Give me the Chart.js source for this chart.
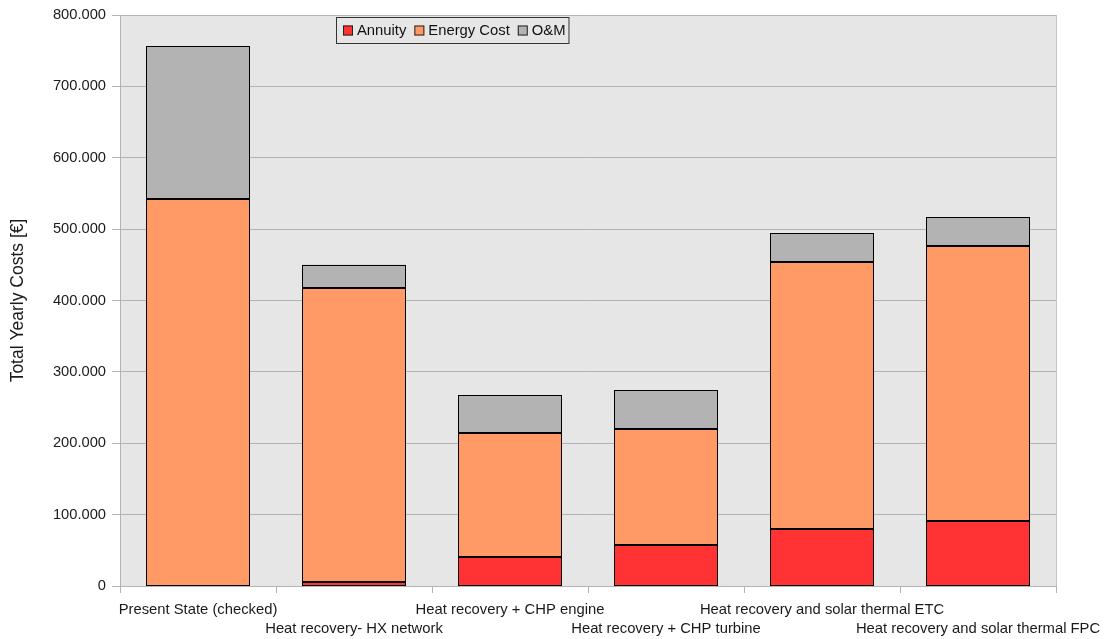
<!DOCTYPE html>
<html>
<head>
<meta charset="utf-8">
<script src="https://cdn.jsdelivr.net/npm/chart.js@4.4.0/dist/chart.umd.min.js"></script>
<style>
  html, body { margin: 0; padding: 0; background: #ffffff; }
  #wrap { width: 1106px; height: 639px; position: relative; }
</style>
</head>
<body>
<div id="wrap"><canvas id="chart" width="1106" height="639"></canvas></div>
<script>
// Scenario names along the x axis
const categories = [
  'Present State (checked)',
  'Heat recovery- HX network',
  'Heat recovery + CHP engine',
  'Heat recovery + CHP turbine',
  'Heat recovery and solar thermal ETC',
  'Heat recovery and solar thermal FPC'
];

// Yearly cost components in €
const annuity    = [0, 5000, 41000, 58000, 80000, 91000];
const energyCost = [542000, 412000, 173000, 162000, 374000, 385000];
const oAndM      = [214000, 33000, 53000, 54000, 40000, 41000];

const seriesNames = ['Annuity', 'Energy Cost', 'O&M'];
const yTickValues = [0, 100000, 200000, 300000, 400000, 500000, 600000, 700000, 800000];
const yAxisTitle = 'Total Yearly Costs [€]';

const FONT = 'Liberation Sans, Arial, sans-serif';
const colors = ['#ff3333', '#ff9966', '#b3b3b3'];

// Thousands with a dot separator: 800000 -> "800.000"
function fmtThousands(v) {
  return String(Math.round(v)).replace(/\B(?=(\d{3})+(?!\d))/g, '.');
}

// Grey plot background and right-hand frame line
const plotBackground = {
  id: 'plotBackground',
  beforeDraw(chart) {
    const { ctx, chartArea: a } = chart;
    ctx.save();
    ctx.fillStyle = '#e6e6e6';
    ctx.fillRect(a.left, a.top, a.right - a.left, a.bottom - a.top);
    ctx.strokeStyle = '#c4c4c4';
    ctx.lineWidth = 1;
    ctx.beginPath();
    ctx.moveTo(a.right + 0.5, a.top);
    ctx.lineTo(a.right + 0.5, a.bottom);
    ctx.stroke();
    ctx.restore();
  }
};

// Crisp 1px black outline around every bar segment, snapped to the pixel grid
const crispOutline = {
  id: 'crispOutline',
  afterDatasetsDraw(chart) {
    const { ctx } = chart;
    ctx.save();
    ctx.strokeStyle = '#000000';
    ctx.lineWidth = 1;
    chart.data.datasets.forEach((ds, di) => {
      const meta = chart.getDatasetMeta(di);
      meta.data.forEach(bar => {
        const { x, y, base, width } = bar.getProps(['x', 'y', 'base', 'width'], true);
        if (Math.abs(base - y) < 0.5) return;
        const l = Math.round(x - width / 2);
        const r = Math.round(x + width / 2) - 1;
        const t = Math.round(Math.min(y, base));
        const b = Math.round(Math.max(y, base)) - 1;
        ctx.strokeRect(l + 0.5, t + 0.5, r - l, b - t);
      });
    });
    ctx.restore();
  }
};

// Boxed legend inside the plot, one row
const boxedLegend = {
  id: 'boxedLegend',
  afterDraw(chart) {
    const { ctx } = chart;
    const x0 = 336, y0 = 17, h = 26;
    ctx.save();
    ctx.font = '14.8px ' + FONT;
    ctx.textBaseline = 'middle';
    let x = x0 + 7;
    const items = chart.data.datasets.map(ds => ({ label: ds.label, color: ds.backgroundColor }));
    const positions = [];
    items.forEach((it, i) => {
      positions.push(x);
      x += 10 + 4 + ctx.measureText(it.label).width + (i < items.length - 1 ? 8 : 3);
    });
    const w = x - x0;
    ctx.fillStyle = '#e6e6e6';
    ctx.fillRect(x0, y0, w, h);
    ctx.strokeStyle = '#333333';
    ctx.lineWidth = 1;
    ctx.strokeRect(x0 + 0.5, y0 + 0.5, w, h);
    const cy = y0 + h / 2 + 0.5;
    items.forEach((it, i) => {
      const px = positions[i];
      ctx.fillStyle = it.color;
      ctx.fillRect(px, cy - 5, 10, 10);
      ctx.strokeStyle = '#222222';
      ctx.strokeRect(px + 0.5, cy - 4.5, 9, 9);
      ctx.fillStyle = '#111111';
      ctx.textAlign = 'left';
      ctx.fillText(it.label, px + 14, cy);
    });
    ctx.restore();
  }
};

const seriesData = [annuity, energyCost, oAndM];

new Chart(document.getElementById('chart'), {
  type: 'bar',
  data: {
    labels: categories,
    datasets: seriesNames.map((name, i) => ({
      label: name,
      data: seriesData[i],
      backgroundColor: colors[i],
      borderWidth: 0,
      categoryPercentage: 1.0,
      barPercentage: 0.6667
    }))
  },
  options: {
    responsive: false,
    animation: false,
    devicePixelRatio: 1,
    layout: { padding: { left: 0, right: 50, top: 15, bottom: 0 } },
    plugins: {
      legend: { display: false },
      tooltip: { enabled: false }
    },
    scales: {
      x: {
        stacked: true,
        offset: true,
        grid: {
          offset: true,
          drawOnChartArea: false,
          drawTicks: true,
          tickLength: 7,
          color: '#b3b3b3'
        },
        border: { color: '#b3b3b3' },
        ticks: {
          autoSkip: false,
          maxRotation: 0,
          minRotation: 0,
          padding: 8,
          color: '#1a1a1a',
          font: { family: FONT, size: 14.8, lineHeight: 1.24 },
          callback(value, index) {
            const label = categories[index];
            return index % 2 === 1 ? ['', label] : label;
          }
        },
        afterFit(scale) {
          scale.height = 53;
          scale.paddingLeft = 0;
          scale.paddingRight = 0;
        }
      },
      y: {
        stacked: true,
        min: 0,
        max: 800000,
        afterBuildTicks(scale) {
          scale.ticks = yTickValues.map(v => ({ value: v }));
        },
        grid: {
          color: '#b3b3b3',
          tickLength: 8,
          drawTicks: true
        },
        border: { color: '#b3b3b3' },
        ticks: {
          padding: 6,
          color: '#1a1a1a',
          font: { family: FONT, size: 14.7 },
          callback: v => fmtThousands(v)
        },
        title: {
          display: true,
          text: yAxisTitle,
          color: '#1a1a1a',
          font: { family: FONT, size: 17.5, lineHeight: 1.2 },
          padding: { top: 8, bottom: 0 }
        },
        afterFit(scale) {
          scale.width = 120;
          scale.paddingTop = 0;
          scale.paddingBottom = 0;
        }
      }
    }
  },
  plugins: [plotBackground, crispOutline, boxedLegend]
});
</script>
</body>
</html>
